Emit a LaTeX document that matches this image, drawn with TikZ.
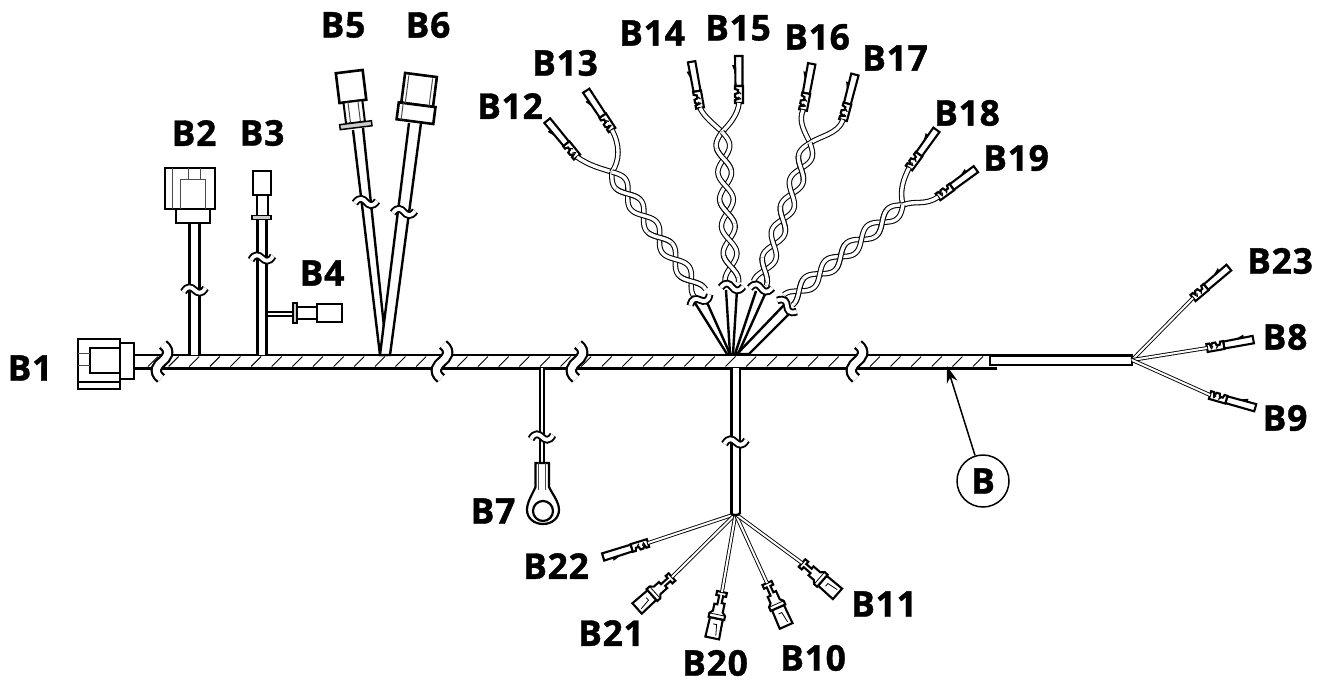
\documentclass[tikz,border=0pt]{standalone}
\usepackage{fontspec}
\setmainfont{Open Sans}[BoldFeatures={FakeBold=1,LetterSpace=2}]
\usetikzlibrary{arrows.meta}

% twisted pair: start, screen angle, length
\newcommand{\twistpair}[3]{
  \begin{scope}[shift={(#1)},rotate=#2]
    \draw[strand,domain=0:#3,samples=70] plot (\x,{6.8*sin(\x*6.667)});
    \draw[strand,domain=0:#3,samples=70] plot (\x,{-6.8*sin(\x*6.667)});
    % redraw the upper strand at every second crossing
    \foreach \a/\b in {16/38,70/92,124/146} {
      \draw[strand,domain=\a:\b,samples=16] plot (\x,{6.8*sin(\x*6.667)});
    }
  \end{scope}
}

\begin{document}
\begin{tikzpicture}[x=1pt,y=-1pt,
  lab/.style={font=\fontsize{35.5}{36}\selectfont\bfseries, inner sep=0pt},
  trunk/.style={line width=2.8, double=white, double distance=10.4},
  wire/.style={line width=2.6, double=white, double distance=7},
  slimwire/.style={line width=1.9, double=white, double distance=2.8},
  finewire/.style={line width=.9, double=white, double distance=2},
  strand/.style={line width=1.05, double=white, double distance=3.4},
  taper/.style={line width=2.4, fill=white},
  conn/.style={line width=2.6, fill=white},
  thinln/.style={line width=1, black!70},
  termline/.style={line width=2.1, fill=white},
  flatterm/.pic={
    \draw[termline] (17,-3.5) -- (47,-4) -- (47,3.5) -- (17,3.5) -- cycle;
    \draw[termline] (0,4) -- (0,-4) -- (3,-4) -- (4,-1) -- (6,-4) -- (9,-4) -- (10,-1) -- (13,-1) -- (14,-4) -- (17,-4) -- (17,4) -- cycle;
    \draw[line width=1.2] (4,2) -- (6,-1) (9,2) -- (11,0);
    \fill (29,-3.5) -- (38,-7) -- (38,-3.5) -- cycle;
  },
  bladeterm/.pic={
    \draw[termline] (27,-6.5) -- (47,-7) -- (47,7) -- (27,6.5) -- cycle;
    \draw[termline] (0,-5) -- (4,-5) -- (4,-2) -- (11,-2) -- (11,-5) -- (20,-5) -- (23,-8) -- (27,-8) -- (27,8) -- (23,8) -- (20,5) -- (13,5) -- (13,2) -- (4,2) -- (4,5) -- (0,5) -- cycle;
    \draw[line width=.8] (44,-3) -- (33,-1.5) -- (33,2);
    \draw[line width=.8] (23,-8) -- (23,8);
  },
  sbreak/.pic={
    \draw[line width=2.2, double=white, double distance=7] (1,-17) .. controls (10,-10) and (4,-3) .. (0,0) .. controls (-4,3) and (-10,10) .. (-1,17);
  },
  wavebreak/.pic={
    \draw[line width=1.9, double=white, double distance=3.8] (-11,2) .. controls (-7,-5) and (-3,-3) .. (0,0) .. controls (3,3) and (7,5) .. (11,-2);
  }
]
\useasboundingbox (0,0) rectangle (1327,683);

% Trunk with hatching, sleeve at the right end
\draw[trunk] (134,361.5) -- (997,361.5);
\foreach \hx in {148,168.625,...,973} {
  \draw[line width=.9] (\hx,366.5) -- (\hx+10,356.5);
}
\draw[line width=2.5, fill=white] (990,355.5) rectangle (1132,365);

% B1 connector
\draw[conn] (120,343) rectangle (134,379);
\draw[conn] (78,339) rectangle (120,389);
\draw[line width=1.3] (90,348) rectangle (120,373);
\draw[thinln] (78,353) -- (90,353) (78,365) -- (90,365);
\draw[line width=1.3] (78,382) -- (120,382);

% B2 connector
\draw[wire] (194.5,223) -- (194.5,355);
\draw[conn] (176,209) rectangle (210,223);
\draw[conn] (165,168) rectangle (215,209);
\draw[thinln] (172,168) -- (172,209) (188,168) -- (188,179) (200,168) -- (200,179);
\draw[thinln] (180,209) -- (180,179) -- (205,179) -- (205,209);

% B3 and its side branch B4
\draw[wire, double distance=6] (262,219) -- (262,355);
\draw[slimwire] (268,314) -- (293,314);
\draw[line width=2, fill=white] (257,195) rectangle (268,217);
\draw[conn] (253,171) rectangle (271,195);
\draw[line width=1.5, fill=black!20] (252,215.5) rectangle (271,219.5);
\draw[line width=1.5, fill=black!20] (293,303) rectangle (297,323);
\draw[line width=2, fill=white] (297,307) rectangle (317,319);
\draw[conn] (317,304) rectangle (342,322);

% B5 and B6 run together into the trunk
\draw[taper] (353,130) -- (380,355) -- (387,355) -- (363,128);
\draw[taper] (409,123) -- (380,355) -- (390,355) -- (421,123);
\begin{scope}[shift={(351,86)},rotate=7]
  \draw[conn] (-13.5,-14.5) rectangle (13.5,15.5);
  \draw[line width=2, fill=white] (-9.5,15.5) rectangle (9.5,37);
  \draw[thinln] (-5,15.5) -- (-5,37) (5,15.5) -- (5,37);
  \draw[line width=1.5, fill=black!20] (-16,37) rectangle (16,42);
\end{scope}
\begin{scope}[shift={(421,75)},rotate=-7.4]
  \draw[conn] (-16,0) rectangle (16,30);
  \draw[conn] (-18.5,30) rectangle (18.5,47);
  \draw[thinln] (-12,2) -- (-12,30) (12,2) -- (12,30) (-14,30) -- (-14,47);
\end{scope}

% B7 ring lug
\draw[slimwire] (542,368) -- (542,463);
\draw[line width=2.2, fill=white] (535.5,487) -- (535.5,463) -- (549,463) -- (549,487)
  .. controls (553,495) and (559,502) .. (559,510)
  .. controls (559,518) and (552,524) .. (543,524)
  .. controls (534,524) and (527,518) .. (527,510)
  .. controls (527,502) and (532,495) .. cycle;
\draw[thinln] (538.5,463) -- (538.5,490) (545.5,463) -- (545.5,490);
\draw[line width=2.2, fill=white] (543,511) circle (10);

% Terminals of the twisted pairs
\foreach \nm/\tx/\ty/\ang in {B12/577/157/129, B13/612/130/123, B14/700/108/100, B15/739/103/90,
    B16/803/110/79, B17/843/120/75, B18/909/168/54, B19/938/197/36} {
  \coordinate (t\nm) at (\tx,\ty);
  \pic at (t\nm) [rotate=\ang] {flatterm};
}
\coordinate (xB12) at (612,172);
\coordinate (xB14) at (722,132);
\coordinate (xB16) at (810,143);
\coordinate (xB18) at (903,205);

\draw[strand] (tB12) .. controls (590,166) and (600,168) .. (xB12);
\draw[strand] (tB13) .. controls (620,145) and (620,160) .. (xB12);
\draw[strand] (tB14) .. controls (705,118) and (714,124) .. (xB14);
\draw[strand] (tB15) .. controls (738,114) and (730,124) .. (xB14);
\draw[strand] (tB16) .. controls (798,122) and (805,132) .. (xB16);
\draw[strand] (tB17) .. controls (838,134) and (820,136) .. (xB16);
\draw[strand] (tB18) .. controls (904,178) and (899,190) .. (xB18);
\draw[strand] (tB19) .. controls (925,206) and (915,200) .. (xB18);

\twistpair{xB12}{-54}{150}
\twistpair{xB14}{-86.2}{151}
\twistpair{xB16}{-109.6}{149}
\twistpair{xB18}{-140.4}{149}

% Wedges from the twisted pairs down to the trunk
\draw[taper] (695,303) -- (727,354) -- (730,354) -- (705,298);
\draw[taper] (726,290) -- (730,354) -- (733,354) -- (737,290);
\draw[taper] (756,291) -- (735,354) -- (738,354) -- (766,292);
\draw[taper] (784,305) -- (737,354) -- (749,354) -- (790,313);

% South branch and its fan
\coordinate (hubS) at (735.5,514);
\foreach \nm/\tx/\ty/\ang in {B22/648/543/197} {
  \coordinate (t\nm) at (\tx,\ty);
  \pic at (t\nm) [rotate=\ang] {flatterm};
}
\foreach \nm/\tx/\ty/\ang in {B21/672/577/222, B20/722/592/258, B10/767/583/-66, B11/802/563/-41} {
  \coordinate (t\nm) at (\tx,\ty);
  \pic at (t\nm) [rotate=\ang] {bladeterm};
}
\foreach \nm in {B22,B21,B20,B10,B11} {
  \draw[finewire] (hubS) -- (t\nm);
}
\draw[wire, double distance=6] (735.5,368) -- (hubS);
\draw[line width=2.3] (730.5,512.5) .. controls (732,516) and (739,516) .. (740.5,512.5);

% East fan
\coordinate (hubE) at (1132,360);
\foreach \nm/\tx/\ty/\ang in {B23/1193/298/40, B8/1207/348/10, B9/1210/395/-16} {
  \coordinate (t\nm) at (\tx,\ty);
  \pic at (t\nm) [rotate=\ang] {flatterm};
  \draw[finewire] (hubE) -- (t\nm);
}

% Breaks
\foreach \bx in {162,442,577,857} {
  \pic at (\bx,361.5) {sbreak};
}
\foreach \bx/\by/\ang in {194.5/290/0, 262/258/0, 366/202/-5, 404/212/-5, 542/437/0, 735.5/442/0,
    700/300/20, 732/287/-8, 761/288/-10, 787/306/-40} {
  \pic at (\bx,\by) [rotate=\ang] {wavebreak};
}

% Callout
\node[lab, circle, draw, line width=1.5, minimum size=52pt, fill=white] (B) at (983,481) {B};
\coordinate (Btip) at (947,366);
\draw[-{Stealth[length=17pt,width=11pt]}, line width=1.5] (B) -- (Btip);

% Labels
\foreach \nm/\lx/\ly in {B1/30/368, B2/194/133, B3/262/133, B4/322/273, B5/343/25, B6/428/25,
    B7/493/511, B8/1285/337, B9/1285/418, B10/813/658, B11/884/604, B12/510/106, B13/565/63,
    B14/652/33, B15/738/28, B16/817/37, B17/895/58, B18/967/113, B19/1016/158, B20/715/663,
    B21/611/633, B22/556/566, B23/1280/261} {
  \node[lab] (l\nm) at (\lx,\ly) {\nm};
}
\end{tikzpicture}
\end{document}
